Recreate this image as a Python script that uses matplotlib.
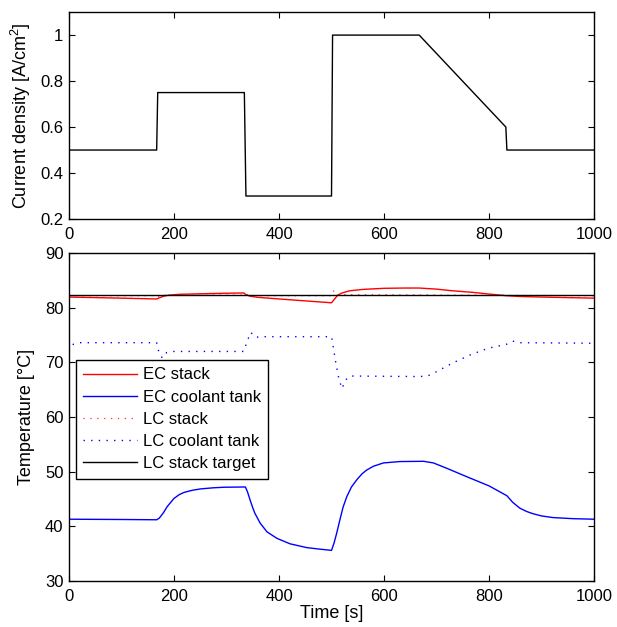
import matplotlib
matplotlib.use("Agg")
import matplotlib.pyplot as plt

plt.rcParams['font.family'] = ['Liberation Sans', 'DejaVu Sans']
plt.rcParams['mathtext.default'] = 'regular'
plt.rcParams['font.size'] = 12

# ---- Data: current density profile ----
cd_time = [0, 167, 169, 334, 337, 500, 502, 667, 832, 834, 1000]
cd_value = [0.5, 0.5, 0.75, 0.75, 0.3, 0.3, 1.0, 1.0, 0.6, 0.5, 0.5]

# ---- Data: temperatures ----
ec_stack_time = [0, 50, 100, 167, 172, 180, 190, 210, 250, 300, 333, 337, 345, 360, 400,
                 450, 500, 505, 512, 520, 535, 560, 600, 640, 667, 700, 730, 770, 800,
                 833, 860, 900, 950, 1000]
ec_stack_value = [81.95, 81.85, 81.75, 81.6, 81.8, 82.1, 82.3, 82.45, 82.55, 82.65, 82.7,
                  82.4, 82.1, 81.9, 81.6, 81.25, 80.9, 81.5, 82.3, 82.7, 83.1, 83.35,
                  83.55, 83.6, 83.6, 83.4, 83.1, 82.8, 82.5, 82.2, 82.05, 81.95, 81.85,
                  81.75]

ec_tank_time = [0, 100, 167, 172, 180, 187, 200, 210, 219, 235, 251, 275, 295, 336, 340,
                345, 350, 354, 364, 377, 396, 421, 453, 480, 500, 505, 510, 516, 522,
                529, 538, 548, 558, 567, 580, 599, 630, 675, 694, 720, 757, 800, 834,
                845, 859, 872, 884, 900, 922, 960, 1000]
ec_tank_value = [41.3, 41.25, 41.2, 41.5, 42.5, 43.6, 45.1, 45.8, 46.2, 46.6, 46.85, 47.05,
                 47.15, 47.2, 46.3, 44.8, 43.4, 42.4, 40.6, 39.0, 37.8, 36.8, 36.1, 35.8,
                 35.6, 37.0, 38.8, 41.2, 43.5, 45.4, 47.2, 48.5, 49.6, 50.3, 51.0, 51.6,
                 51.85, 51.9, 51.6, 50.6, 49.1, 47.4, 45.6, 44.4, 43.3, 42.7, 42.3, 41.9,
                 41.6, 41.4, 41.3]

lc_stack_time = [0, 167, 172, 180, 333, 337, 345, 500, 505, 512, 1000]
lc_stack_value = [82.2, 82.2, 82.0, 82.3, 82.3, 82.5, 82.2, 82.2, 83.2, 82.4, 82.2]

lc_tank_time = [0, 8, 20, 167, 172, 178, 186, 200, 333, 338, 346, 355, 370, 500, 503, 508,
                514, 520, 527, 535, 667, 683, 700, 731, 765, 799, 833, 845, 855, 1000]
lc_tank_value = [72.0, 73.3, 73.6, 73.6, 71.5, 70.8, 71.8, 72.0, 72.0, 73.5, 75.5, 74.6,
                 74.7, 74.7, 73.0, 70.0, 67.0, 65.2, 66.8, 67.5, 67.4, 67.5, 68.3, 69.9,
                 71.4, 72.6, 73.3, 73.9, 73.6, 73.5]

target_time = [0, 1000]
target_value = [82.35, 82.35]

series_labels = ['EC stack', 'EC coolant tank', 'LC stack', 'LC coolant tank', 'LC stack target']

fig = plt.figure(figsize=(6.17, 6.27), dpi=100)
ax1 = fig.add_axes([0.1118, 0.6507, 0.851, 0.330])
ax2 = fig.add_axes([0.1118, 0.0734, 0.851, 0.523])

for ax in (ax1, ax2):
    ax.tick_params(direction='in', top=True, right=True, length=4, width=0.8,
                   labelsize=12)
    ax.tick_params(axis='x', pad=5.5)
    ax.tick_params(axis='y', pad=4)
    for s in ax.spines.values():
        s.set_linewidth(1.0)

ax1.plot(cd_time, cd_value, color='black', lw=1.0)
ax1.set_xlim(0, 1000)
ax1.set_ylim(0.2, 1.1)
ax1.set_xticks([0, 200, 400, 600, 800, 1000])
ax1.set_yticks([0.2, 0.4, 0.6, 0.8, 1.0])
ax1.set_yticklabels(['0.2', '0.4', '0.6', '0.8', '1'])
ax1.set_ylabel('Current density [A/cm$^2$]', fontsize=13, labelpad=5)

dot = (0, (1, 4.5))
ax2.plot(ec_stack_time, ec_stack_value, color='#ff0000', lw=1.0, label=series_labels[0])
ax2.plot(ec_tank_time, ec_tank_value, color='#0000ff', lw=1.0, label=series_labels[1])
ax2.plot(lc_stack_time, lc_stack_value, color='#ff3030', lw=0.9, ls=dot, label=series_labels[2])
ax2.plot(lc_tank_time, lc_tank_value, color='#0000ff', lw=1.0, ls=dot, label=series_labels[3])
ax2.plot(target_time, target_value, color='black', lw=1.0, label=series_labels[4])
ax2.set_xlim(0, 1000)
ax2.set_ylim(30, 90)
ax2.set_xticks([0, 200, 400, 600, 800, 1000])
ax2.set_yticks([30, 40, 50, 60, 70, 80, 90])
ax2.set_xlabel('Time [s]', fontsize=13, labelpad=1)
ax2.set_ylabel('Temperature [°C]', fontsize=13, labelpad=7)

leg = ax2.legend(loc='upper left', bbox_to_anchor=(0.0133, 0.674), borderaxespad=0,
                 fancybox=False, shadow=False, framealpha=1, edgecolor='black',
                 handlelength=3.2, handletextpad=0.36, labelspacing=0.43,
                 borderpad=0.45, fontsize=12)
leg.get_frame().set_linewidth(1.0)

fig.savefig('out.png', dpi=100)
